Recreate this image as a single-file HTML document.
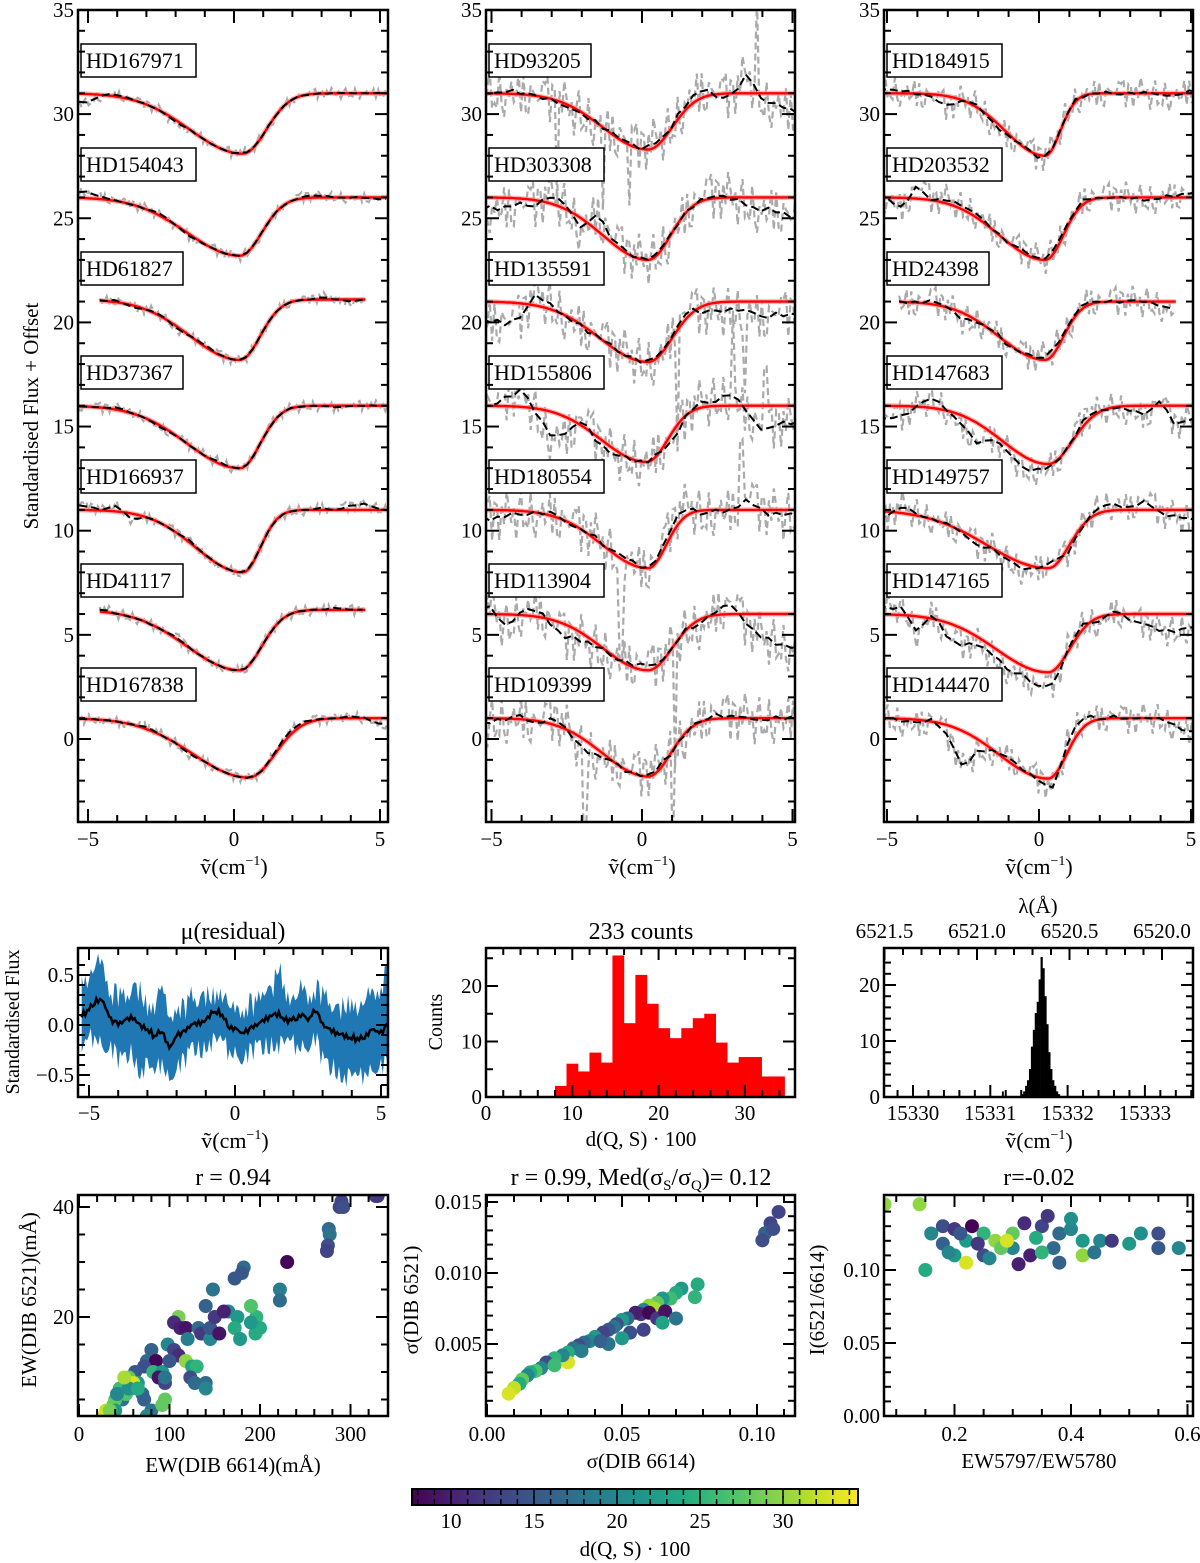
<!DOCTYPE html>
<html><head><meta charset="utf-8"><title>DIB 6521 figure</title>
<style>
html,body{margin:0;padding:0;background:#fff;}
svg{display:block;font-family:"Liberation Serif","DejaVu Serif",serif;}
</style></head>
<body>
<svg id="fig" width="1200" height="1563" viewBox="0 0 1200 1563" xmlns="http://www.w3.org/2000/svg">
<defs>
<linearGradient id="viridis" x1="0" x2="1" y1="0" y2="0">
<stop offset="0" stop-color="#440154"/><stop offset="0.1" stop-color="#482475"/><stop offset="0.2" stop-color="#414487"/><stop offset="0.3" stop-color="#355f8d"/><stop offset="0.4" stop-color="#2a788e"/><stop offset="0.5" stop-color="#21918c"/><stop offset="0.6" stop-color="#22a884"/><stop offset="0.7" stop-color="#44bf70"/><stop offset="0.8" stop-color="#7ad151"/><stop offset="0.9" stop-color="#bddf26"/><stop offset="1" stop-color="#fde725"/>
</linearGradient>
<clipPath id="c0"><rect x="78" y="10" width="310" height="812"/></clipPath>
<clipPath id="c1"><rect x="486" y="10" width="309" height="812"/></clipPath>
<clipPath id="c2"><rect x="884" y="10" width="309" height="812"/></clipPath>
<clipPath id="cres"><rect x="78" y="948" width="310" height="149"/></clipPath>
<clipPath id="cs1"><rect x="78" y="1195" width="310" height="221"/></clipPath>
<clipPath id="cs2"><rect x="486" y="1195" width="309" height="221"/></clipPath>
<clipPath id="cs3"><rect x="884" y="1195" width="309" height="221"/></clipPath>
</defs>
</svg>
<script>
// ---------- DATA ----------
const starNames = [
 ['HD167971','HD154043','HD61827','HD37367','HD166937','HD41117','HD167838'],
 ['HD93205','HD303308','HD135591','HD155806','HD180554','HD113904','HD109399'],
 ['HD184915','HD203532','HD24398','HD147683','HD149757','HD147165','HD144470']];
const starBase = [[31,26,21.1,16,11,6.2,1],[31,26,21,16,11,6,1],[31,26,21,16,11,6,1]];
const starDepth = [[2.9,2.8,2.9,3,3,2.9,2.85],[2.7,3,2.9,2.7,2.8,2.7,2.8],[3,3,2.8,2.8,2.8,2.8,2.9]];
const starCenter = [[0.3,0.2,0.2,0.2,0.3,0.2,0.5],[0.2,0.2,0.2,0.15,0.2,0.2,0.2],[0.2,0.2,0.2,0.3,0.3,0.3,0.3]];
const starSigL = [[1.8,1.8,1.7,1.8,1.6,1.8,1.9],[1.5,1.5,1.6,1.5,1.5,1.5,1.5],[1.3,1.5,1.5,1.5,2,1.7,1.6]];
const starSigR = [[0.8,0.75,0.7,0.7,0.6,0.75,0.9],[0.8,0.75,0.8,0.7,0.6,0.8,0.75],[0.5,0.6,0.6,0.8,0.7,0.7,0.6]];
const starRange = [[[-5.3,5.3],[-5.3,5.3],[-4.6,4.5],[-5.3,5.3],[-5.3,5.3],[-4.6,4.5],[-5.3,5.3]],
 [[-5.3,5.3],[-5.3,5.3],[-5.3,5.3],[-5.3,5.3],[-5.3,5.3],[-5.3,5.3],[-5.3,5.3]],
 [[-5.3,5.3],[-5.3,5.3],[-4.6,4.5],[-5.3,5.3],[-5.3,5.3],[-5.3,5.3],[-5.3,5.3]]];
const starDev = [
 [[-0.4,0,0.1,0,0,0,-0.1,0,0,0,0,0.05,0,0,0,0,0,0,0,0,0],
  [0.3,0.1,0,0,0,0.1,0,-0.1,0,0,0,0,0,0,0,0.1,0.1,0,0,0,-0.1],
  [0,0,0.1,-0.1,0,0.1,-0.1,0,0.1,0,0,0,0,0,0,0,0.1,0,-0.1,0,0],
  [0,0,0.1,0,0,-0.1,0,0,0,0.1,0,0,0,0,0,0,0,-0.1,0,0,0],
  [0.2,0,0.3,-0.3,0,0,0,0.1,0,0,0,0,0,0,0,0,0.1,0,0.2,0.3,0],
  [0.1,0.1,0,0,0,0,0.1,0,0,0,0,0,0,0,0,0,0,0.1,0,0,0],
  [0,0,0,0,0.1,0,0,-0.1,0,0,0,0,0,0.1,0.2,0.1,0,0,0.1,0,-0.3]],
 [[0,0.1,0.1,-0.1,-0.05,-0.15,-0.1,0,0.1,0.1,0.05,0.3,0.05,0.3,0.35,-0.1,-0.1,0.9,-0.4,-0.5,-0.9],
  [-0.5,-0.45,-0.3,-0.2,0.4,0.1,-0.5,0.8,0.2,0,0,0.1,0,0,0.1,0.1,0,-0.3,-0.6,-0.6,-1.0],
  [-0.9,-1.0,-0.6,0.6,0.2,0,-0.1,0,0,0.1,0,0,0.1,0.3,-0.3,-0.5,-0.4,-0.4,-0.8,-0.6,-0.6],
  [0,0.4,0.8,-0.3,-1.2,-0.8,0.3,-0.2,-0.3,0,0,0.2,-0.5,0,0.2,0.3,0.6,-0.4,-1.2,-0.9,-0.8],
  [-0.4,-0.3,-0.1,0,0.1,-0.1,0,0.1,0,0.2,0,0.1,0.4,0.4,-0.2,0,0,0.6,-0.1,-0.2,-0.3],
  [0.3,-0.6,0.2,0.4,-0.2,-0.6,-0.3,-0.2,0,0.1,0.2,0.1,0,0,-0.3,0.2,0.5,-0.6,-1.1,-1.4,-1.6],
  [-0.2,0,0.1,-0.2,0.3,0,-0.5,-0.3,0,0,0.1,0.2,0,-0.1,0.1,0.2,0,0,-0.1,0,0]],
 [[0.2,0.1,0,-0.2,-0.5,0,0.1,-0.2,-0.1,0.1,-0.1,0.1,0.1,0,0,0,0,0,-0.1,-0.1,0.1],
  [0,-0.5,0.6,0,0.2,0.1,0.2,0,0,0.1,0,0.2,0.1,0.2,0,0,0,-0.1,0,0.1,0.2],
  [0,0,0,0.2,0,-0.3,0,0.1,-0.1,0,0.1,0.3,0,0.2,0,0,0,0,-0.2,-0.4,-0.4],
  [-0.6,-0.5,0,0.5,0,-0.5,-1.0,-0.2,-0.3,-0.6,-0.3,0,0,0.3,0,0,-0.2,-0.5,0.3,-1.0,-0.6],
  [-0.2,0.3,0.1,0,0,-0.1,-0.3,0,-0.2,-0.3,0,0.3,-0.3,0,0.3,0.3,0.1,0.5,-0.2,-0.3,-0.5],
  [0.3,0.4,-0.8,0.3,-0.7,-0.8,-0.3,-0.4,-0.6,-0.4,-0.8,-0.6,0.2,0.2,-0.3,0.2,-0.3,-0.5,-0.8,-0.8,-0.6],
  [0,-0.1,-0.2,0.1,-0.5,-1.8,-0.5,0,0.2,0.1,-0.1,-0.5,0.6,0.4,0,0.1,-0.1,0,0,-0.4,-0.7]]];
const noiseAmp = [0.25,1.2,0.75];
const jitter = [0.3,-0.8,0.5,-0.2,0.9,-0.6,0.1,-1,0.7,-0.3,0.4,-0.9,0.8,-0.1,0.2,-0.7,1,-0.4,0.6,-0.5,0,0.9,-0.8,0.3,-0.2,0.5,-1,0.7,-0.6,0.4,-0.3,0.8,-0.9,0.1,0.6,-0.4,0.2];
// big grey spikes in middle column: [star index, x, amplitude]
const spikeStar = [0,0,0,0,2,2,3,3,4,4,5,6,6];
const spikeX = [-2.8,-1.3,-0.4,3.8,1.2,3.4,3.0,4.1,-0.7,3.3,1.1,-1.9,1.0];
const spikeAmp = [-5,-4,-3,4.5,-6,-4,4,3,-5,3,-6,-4,-5];

const resMean = [0.1,0.15,0.25,0.22,0.05,0.0,0.05,0.08,0.0,-0.03,-0.12,-0.05,-0.25,-0.1,-0.08,0.0,0.02,0.05,0.15,0.12,0.0,-0.05,-0.08,-0.05,0.0,0.05,0.1,0.12,0.05,0.05,0.1,0.05,0.15,0.0,-0.05,-0.08,-0.1,-0.12,-0.15,-0.1,-0.05,-0.08,0.0];
const resUp = [0.35,0.3,0.4,0.35,0.25,0.3,0.2,0.28,0.35,0.22,0.3,0.5,0.25,0.3,0.22,0.28,0.2,0.25,0.15,0.2,0.25,0.18,0.22,0.25,0.2,0.3,0.22,0.5,0.25,0.2,0.28,0.22,0.2,0.3,0.25,0.22,0.3,0.35,0.3,0.4,0.35,0.45,0.55];
const resDn = [0.35,0.3,0.35,0.45,0.3,0.35,0.4,0.35,0.45,0.35,0.4,0.3,0.3,0.35,0.3,0.25,0.28,0.22,0.3,0.28,0.25,0.22,0.28,0.25,0.22,0.3,0.25,0.3,0.22,0.25,0.3,0.28,0.3,0.35,0.4,0.35,0.4,0.38,0.4,0.35,0.4,0.35,0.4];

const histStart = 8.0, histWidth = 1.33;
const histCounts = [2,6,4.6,8,6.2,25.5,13.3,22,16.8,12.4,10.6,12.4,14.2,15,9.8,6.2,7.2,7.2,3.7,3.7];

const h3Start = 15331.40, h3Width = 0.025;
const h3Counts = [0.5,1,2,3,5,9,12,15,17,21,25,23,18,13,8,5,3,2,1,0.5];
const h3Stray = [15331.15, 1];

const s1x = [330,328,290,288,292,276,277,275,274,230,182,180,172,222,222,148,165,196,200,195,190,175,190,172,178,110,105,112,118,132,135,145,145,155,98,105,110,118,125,130,123,128,140,140,80,75,85,72,82,92,88,95,95,62,55,58,65,60,45,45,48,52,40,38,35,30,28,40,42,55,70,72,80,92,95,75,140,150,160,120,100,65,50,34];
const s1y = [42,42,41,40,40,36,35,33,32,30,29,28,27,25,23,25,21,20,18,17,19,20,22,18,16,20,19,18,18,18,17,16,18,17,15,14,13,12,11,11,9,8,8,7,14,12,12,11,10,10,9,8,9,10,9,7,8,8,7,6,5,6,5,4,2,3,2,3,6,7,6,5,3,4,5,2,22,20,21,16,12,7,9,3];
const s1d = [12,12,13,13,14,17,18,14,13,8,17,15,15,19,17,18,20,25,24,24,22,22,27,24,22,29,11,10,9,17,12,20,15,9,20,13,11,30,23,25,14,17,17,20,16,17,8,14,25,22,9,13,18,15,28,23,22,33,26,23,18,27,27,28,30,32,33,22,20,21,17,16,18,28,28,20,16,12,10,19,15,24,31,29];

const s2x = [0.108,0.105,0.103,0.102,0.106,0.078,0.077,0.072,0.07,0.068,0.065,0.063,0.06,0.062,0.058,0.057,0.055,0.06,0.052,0.05,0.048,0.047,0.045,0.043,0.04,0.038,0.036,0.034,0.032,0.03,0.03,0.028,0.025,0.022,0.02,0.018,0.016,0.015,0.013,0.012,0.01,0.008,0.058,0.063,0.066,0.07,0.065,0.053,0.05,0.045,0.035,0.025,0.042];
const s2y = [0.0143,0.0135,0.0128,0.0123,0.0131,0.0092,0.0083,0.0089,0.0086,0.0082,0.0082,0.0079,0.0077,0.0075,0.0074,0.0071,0.0072,0.0072,0.0068,0.0067,0.0064,0.0062,0.006,0.0058,0.0055,0.0052,0.0051,0.0049,0.0047,0.0044,0.0037,0.0042,0.004,0.0037,0.0033,0.0031,0.003,0.0028,0.0025,0.0022,0.0019,0.0015,0.006,0.0068,0.0073,0.0068,0.0065,0.0058,0.0054,0.005,0.0045,0.0035,0.0052];
const s2d = [13,13,16,14,14,24,25,22,24,26,22,28,30,31,20,12,10,8,17,22,14,18,15,13,22,20,17,14,18,24,33,20,25,14,20,27,24,20,28,24,32,33,13,12,9,18,23,14,22,18,19,26,16];

const s3x = [0.08,0.14,0.16,0.18,0.2,0.22,0.23,0.25,0.27,0.3,0.32,0.35,0.36,0.38,0.4,0.42,0.45,0.5,0.52,0.55,0.55,0.585,0.15,0.2,0.22,0.25,0.28,0.3,0.33,0.37,0.38,0.42,0.44,0.18,0.26,0.31,0.24,0.29,0.34,0.4,0.47,0.19,0.21,0.35];
const s3y = [0.145,0.145,0.125,0.13,0.128,0.12,0.13,0.125,0.12,0.115,0.132,0.13,0.137,0.125,0.128,0.12,0.12,0.118,0.125,0.125,0.115,0.115,0.1,0.11,0.105,0.11,0.115,0.125,0.11,0.115,0.105,0.11,0.112,0.118,0.108,0.104,0.118,0.12,0.122,0.135,0.12,0.112,0.125,0.112];
const s3d = [30,30,20,14,12,22,8,25,30,20,11,13,12,17,20,22,20,22,21,14,15,20,24,22,33,14,28,28,10,17,16,30,18,16,20,10,12,33,24,21,12,20,15,25];

const cbTicks = [10,15,20,25,30];

// ---------- HELPERS ----------
const NS='http://www.w3.org/2000/svg';
const svg=document.getElementById('fig');
const TS=21;
function el(tag, attrs, parent){const e=document.createElementNS(NS,tag);for(const k in attrs)e.setAttribute(k,attrs[k]);(parent||svg).appendChild(e);return e;}
function txt(x,y,s,size,anchor,parent){const t=el('text',{x:x,y:y,'font-size':size,'text-anchor':anchor||'middle',fill:'#000'},parent);t.textContent=s;return t;}
function line(x1,y1,x2,y2,w,parent){return el('line',{x1:x1,y1:y1,x2:x2,y2:y2,stroke:'#000','stroke-width':w||1.5},parent);}
function frame(x0,y0,x1,y1,name){const r=el('rect',{x:x0,y:y0,width:x1-x0,height:y1-y0,fill:'none',stroke:'#000','stroke-width':2.5});
 
 
 return r;}
function ticksX(vals,fx,y0,y1,len,top,bottom){vals.forEach(v=>{const x=fx(v);if(bottom!==false)line(x,y1,x,y1-len,2);if(top!==false)line(x,y0,x,y0+len,2);});}
function ticksY(vals,fy,x0,x1,len){vals.forEach(v=>{const y=fy(v);line(x0,y,x0+len,y,2);line(x1,y,x1-len,y,2);});}
function range(a,b,s){const r=[];for(let v=a;v<=b+1e-9;v+=s)r.push(Math.round(v*10000)/10000);return r;}
function fmtNeg(v,d){const s=Math.abs(v).toFixed(d);return v<0?'\u2212'+s:s;}
function nuLabel(x,y,name){const t=el('text',{x:x,y:y,'font-size':22,'text-anchor':'middle'});
 
 
 t.appendChild(document.createTextNode('\u1e7d(cm'));
 const s=el('tspan',{dy:-9,'font-size':14},t);s.textContent='\u22121';
 const c=el('tspan',{dy:9},t);c.textContent=')';return t;}
function vir(d){const t=Math.max(0,Math.min(1,(d-7.65)/(34.5-7.65)));
 const st=[[68,1,84],[72,36,117],[65,68,135],[53,95,141],[42,120,142],[33,145,140],[34,168,132],[68,191,112],[122,209,81],[189,223,38],[253,231,37]];
 const p=t*10,i=Math.min(9,Math.floor(p)),f=p-i;const a=st[i],b=st[i+1];
 return 'rgb('+a.map((v,k)=>Math.round(v+(b[k]-v)*f)).join(',')+')';}
function interpDev(dev,x){const p=(x+5)/0.5;if(p<=0)return dev[0];if(p>=20)return dev[20];const i=Math.floor(p),f=p-i;return dev[i]*(1-f)+dev[i+1]*f;}

// ---------- SPECTRA PANELS ----------
const cols=[{x0:78,x1:388,c:234,s:29.2},{x0:486,x1:795,c:642,s:30.1},{x0:884,x1:1193,c:1039,s:30.4}];
const fySpec=v=>739-v*20.83;
cols.forEach((P,ci)=>{
 const fx=v=>P.c+v*P.s;
 const g=el('g',{'clip-path':'url(#c'+ci+')'});
 
 
 starNames[ci].forEach((nm,si)=>{
  const b=starBase[ci][si],d=starDepth[ci][si],c=starCenter[ci][si],sL=starSigL[ci][si],sR=starSigR[ci][si];
  const [lo,hi]=starRange[ci][si];const dev=starDev[ci][si];
  const red=x=>{const s=x<c?sL:sR;return b-d*Math.exp(-(x-c)*(x-c)/(2*s*s));};
  const black=x=>red(x)+interpDev(dev,x);
  let pg=[];let k=0;
  for(let x=lo;x<=hi+1e-9;x+=0.08){
   let v=black(x)+noiseAmp[ci]*jitter[(k*7+si*5)%37];
   if(ci===1){spikeStar.forEach((st,j)=>{if(st===si&&Math.abs(x-spikeX[j])<0.05)v=black(x)+spikeAmp[j];});}
   pg.push(fx(x).toFixed(1)+','+fySpec(v).toFixed(1));k++;}
  const gr=el('polyline',{points:pg.join(' '),fill:'none',stroke:'#aaaaaa','stroke-width':2.2,'stroke-dasharray':'7,4'},g);
  
  
  let pr=[];for(let x=lo;x<=hi+1e-9;x+=0.05)pr.push(fx(x).toFixed(1)+','+fySpec(red(x)).toFixed(1));
  const pk=el('polyline',{points:pr.join(' '),fill:'none',stroke:'#ff9a9a','stroke-width':5,opacity:0.7},g);
  
  
  const rd=el('polyline',{points:pr.join(' '),fill:'none',stroke:'#ff0000','stroke-width':2.4},g);
  
  
  let pb=[];k=0;for(let x=lo;x<=hi+1e-9;x+=0.25){pb.push(fx(x).toFixed(1)+','+fySpec(black(x)+0.1*noiseAmp[ci]*jitter[(k*3+si)%37]).toFixed(1));k++;}
  const bl=el('polyline',{points:pb.join(' '),fill:'none',stroke:'#000','stroke-width':2,'stroke-dasharray':'8,4'},g);
  
  
  const cy=60+si*104;const w=nm.length*13+11;
  const bx=el('rect',{x:P.x0+3,y:cy-16,width:w,height:33,fill:'#fff',stroke:'#000','stroke-width':1.5});
  
  
  const lt=txt(P.x0+8,cy+8,nm,22,'start');
  
  
 });
 frame(P.x0,10,P.x1,822,'spectra-frame-'+(ci+1));
 ticksX([-5,0,5],fx,10,822,13);
 ticksX([-4,-3,-2,-1,1,2,3,4],fx,10,822,7);
 ticksY(range(0,35,5),fySpec,P.x0,P.x1,13);
 ticksY(range(-3,34,1).filter(v=>v%5!==0),fySpec,P.x0,P.x1,7);
 range(0,35,5).forEach(v=>{const t=txt(P.x0-4,fySpec(v)+7,String(v),TS,'end');});
 [-5,0,5].forEach(v=>{const t=txt(fx(v),846,fmtNeg(v,0),TS,'middle');});
 nuLabel(fx(0),874,'x-axis-title-spectra-'+(ci+1));
});
{const t=el('text',{x:0,y:0,'font-size':21,'text-anchor':'middle',transform:'translate(38,416) rotate(-90)'});t.textContent='Standardised Flux + Offset';
 
 }

// ---------- RESIDUAL PANEL ----------
{
 const fx=v=>235+v*29.2, fy=r=>1025-r*100;
 const g=el('g',{'clip-path':'url(#cres)'});
 
 
 const up=[],dn=[],mn=[];
 const n=resMean.length;
 for(let j=0;j<=(n-1)*4;j++){
  const p=j/4,i=Math.min(n-2,Math.floor(p)),f=p-i;
  const m=resMean[i]*(1-f)+resMean[i+1]*f;
  const u=resUp[i]*(1-f)+resUp[i+1]*f, dd=resDn[i]*(1-f)+resDn[i+1]*f;
  const x=fx(-5.25+p*0.25);
  up.push(x.toFixed(1)+','+fy(m+u+0.12*jitter[(j*5)%37]).toFixed(1));
  dn.push(x.toFixed(1)+','+fy(m-dd+0.12*jitter[(j*11+3)%37]).toFixed(1));
  mn.push(x.toFixed(1)+','+fy(m+0.03*jitter[(j*3+1)%37]).toFixed(1));
 }
 const band=el('polygon',{points:up.concat(dn.reverse()).join(' '),fill:'#1f77b4'},g);
 
 
 const ml=el('polyline',{points:mn.join(' '),fill:'none',stroke:'#000','stroke-width':2.5},g);
 
 
 frame(78,948,388,1097,'residual-frame');
 ticksX([-5,0,5],fx,948,1097,12);ticksX([-4,-3,-2,-1,1,2,3,4],fx,948,1097,7);
 ticksY([-0.5,0,0.5],fy,78,388,12);ticksY([-0.6,-0.4,-0.3,-0.2,-0.1,0.1,0.2,0.3,0.4,0.6],fy,78,388,7);
 [[0.5,'0.5'],[0,'0.0'],[-0.5,'\u22120.5']].forEach(([v,s])=>{const t=txt(74,fy(v)+7,s,TS,'end');});
 [-5,0,5].forEach(v=>{const t=txt(fx(v),1120,fmtNeg(v,0),TS);});
 nuLabel(235,1148,'x-axis-title-residual');
 const tt=txt(233,939,'\u03bc(residual)',24);
 const yl=el('text',{x:0,y:0,'font-size':20,'text-anchor':'middle',transform:'translate(19,1022) rotate(-90)'});yl.textContent='Standardised Flux';
 
 
}

// ---------- HISTOGRAM d(Q,S) ----------
{
 const fx=d=>486+d*8.63, fy=c=>1097-c*5.55;
 histCounts.forEach((c,i)=>{const x0=fx(histStart+i*histWidth),x1=fx(histStart+(i+1)*histWidth);
  const r=el('rect',{x:x0,y:fy(c),width:x1-x0+0.3,height:fy(0)-fy(c),fill:'#ff0000'});
  
  });
 frame(486,948,795,1097,'histogram-frame');
 ticksX([0,10,20,30],fx,948,1097,12);ticksX(range(2,34,2).filter(v=>v%10!==0),fx,948,1097,7);
 ticksY([0,10,20],fy,486,795,12);ticksY([5,15,25],fy,486,795,7);
 [0,10,20].forEach(v=>{const t=txt(482,fy(v)+7,String(v),TS,'end');});
 [0,10,20,30].forEach(v=>{const t=txt(fx(v),1120,String(v),TS);});
 const xl=txt(641,1146,'d(Q, S) \u00b7 100',21);
 const tt=txt(641,939,'233 counts',24);
 const yl=el('text',{x:0,y:0,'font-size':20,'text-anchor':'middle',transform:'translate(442,1022) rotate(-90)'});yl.textContent='Counts';
 
 
}

// ---------- CENTRE HISTOGRAM ----------
{
 const fx=v=>913+(v-15330)*77.3, fy=c=>1097-c*5.6, flam=l=>977+(6521.0-l)*185;
 h3Counts.forEach((c,i)=>{const x0=fx(h3Start+i*h3Width),x1=fx(h3Start+(i+1)*h3Width);
  const r=el('rect',{x:x0,y:fy(c),width:x1-x0+0.3,height:fy(0)-fy(c),fill:'#000'});
  
  });
 {const r=el('rect',{x:fx(h3Stray[0]),y:fy(h3Stray[1]),width:1.9,height:fy(0)-fy(h3Stray[1]),fill:'#000'});
  
  }
 frame(884,948,1193,1097,'center-histogram-frame');
 ticksX([15330,15331,15332,15333],fx,948,1097,12,false,true);ticksX(range(15329.8,15333.6,0.2).filter(v=>Math.abs(v-Math.round(v))>0.01),fx,948,1097,7,false,true);
 ticksX([6521.5,6521.0,6520.5,6520.0],flam,948,1097,12,true,false);ticksX([6521.4,6521.3,6521.2,6521.1,6520.9,6520.8,6520.7,6520.6,6520.4,6520.3,6520.2,6520.1],flam,948,1097,7,true,false);
 ticksY([0,10,20],fy,884,1193,12);ticksY([2,4,6,8,12,14,16,18,22,24],fy,884,1193,7);
 [0,10,20].forEach(v=>{const t=txt(880,fy(v)+7,String(v),TS,'end');});
 [15330,15331,15332,15333].forEach(v=>{const t=txt(fx(v),1120,String(v),TS);});
 [[6521.5,'6521.5'],[6521.0,'6521.0'],[6520.5,'6520.5'],[6520.0,'6520.0']].forEach(([v,s])=>{const t=txt(flam(v),938,s,TS);});
 const tl=txt(1038,913,'\u03bb(\u00c5)',21);
 nuLabel(1039,1148,'x-axis-title-center');
}

// ---------- SCATTER PANELS ----------
function scatter(xs,ys,ds,fx,fy,clip,prefix){const g=el('g',{'clip-path':'url(#'+clip+')'});
 
 
 xs.forEach((x,i)=>{const c=el('circle',{cx:fx(x),cy:fy(ys[i]),r:7,fill:vir(ds[i])},g);
  
  });}
{
 const fx=e=>79+e*0.905, fy=e=>1427-e*5.5;
 scatter(s1x,s1y,s1d,fx,fy,'cs1','ew-scatter');
 frame(78,1195,388,1416,'ew-scatter-frame');
 ticksX([0,100,200,300],fx,1195,1416,12);ticksX(range(20,320,20).filter(v=>v%100!==0),fx,1195,1416,7);
 ticksY([20,40],fy,78,388,12);ticksY([5,10,15,25,30,35],fy,78,388,7);
 [20,40].forEach(v=>{const t=txt(74,fy(v)+7,String(v),TS,'end');});
 [0,100,200,300].forEach(v=>{const t=txt(fx(v),1441,String(v),TS);});
 const xl=txt(233,1472,'EW(DIB 6614)(m\u00c5)',21);
 const tt=txt(233,1185,'r =  0.94',24);
 const yl=el('text',{x:0,y:0,'font-size':21,'text-anchor':'middle',transform:'translate(36,1300) rotate(-90)'});yl.textContent='EW(DIB 6521)(m\u00c5)';
 
 
}
{
 const fx=s=>487+s*2700, fy=s=>1415-s*14200;
 scatter(s2x,s2y,s2d,fx,fy,'cs2','sigma-scatter');
 frame(486,1195,795,1416,'sigma-scatter-frame');
 ticksX([0,0.05,0.1],fx,1195,1416,12);ticksX([0.01,0.02,0.03,0.04,0.06,0.07,0.08,0.09,0.11],fx,1195,1416,7);
 ticksY([0.005,0.01,0.015],fy,486,795,12);ticksY([0.001,0.002,0.003,0.004,0.006,0.007,0.008,0.009,0.011,0.012,0.013,0.014],fy,486,795,7);
 [[0.005,'0.005'],[0.01,'0.010'],[0.015,'0.015']].forEach(([v,s])=>{const t=txt(482,fy(v)+7,s,TS,'end');});
 [[0,'0.00'],[0.05,'0.05'],[0.1,'0.10']].forEach(([v,s])=>{const t=txt(fx(v),1441,s,TS);});
 const xl=txt(641,1468,'\u03c3(DIB 6614)',21);
 const tt=el('text',{x:641,y:1185,'font-size':24,'text-anchor':'middle'});
 
 
 tt.appendChild(document.createTextNode('r =  0.99, Med(\u03c3'));
 let a=el('tspan',{dy:5,'font-size':15},tt);a.textContent='S';
 let b=el('tspan',{dy:-5},tt);b.textContent='/\u03c3';
 let c=el('tspan',{dy:5,'font-size':15},tt);c.textContent='Q';
 let d=el('tspan',{dy:-5},tt);d.textContent=')= 0.12';
 const yl=el('text',{x:0,y:0,'font-size':21,'text-anchor':'middle',transform:'translate(418,1300) rotate(-90)'});yl.textContent='\u03c3(DIB 6521)';
 
 
}
{
 const fx=r=>838+r*582.5, fy=i=>1416-i*1460;
 scatter(s3x,s3y,s3d,fx,fy,'cs3','ratio-scatter');
 frame(884,1195,1193,1416,'ratio-scatter-frame');
 ticksX([0.2,0.4,0.6],fx,1195,1416,12);ticksX([0.1,0.15,0.25,0.3,0.35,0.45,0.5,0.55,0.65],fx,1195,1416,7);
 ticksY([0,0.05,0.1],fy,884,1193,12);ticksY([0.01,0.02,0.03,0.04,0.06,0.07,0.08,0.09,0.11,0.12,0.13,0.14],fy,884,1193,7);
 [[0,'0.00'],[0.05,'0.05'],[0.1,'0.10']].forEach(([v,s])=>{const t=txt(880,fy(v)+7,s,TS,'end');});
 [[0.2,'0.2'],[0.4,'0.4'],[0.6,'0.6']].forEach(([v,s])=>{const t=txt(fx(v),1441,s,TS);});
 const xl=txt(1039,1468,'EW5797/EW5780',21);
 const tt=txt(1039,1185,'r=-0.02',24);
 const yl=el('text',{x:0,y:0,'font-size':21,'text-anchor':'middle',transform:'translate(824,1300) rotate(-90)'});yl.textContent='I(6521/6614)';
 
 
}

// ---------- COLORBAR ----------
{
 const fx=d=>412+(d-7.65)*16.6;
 const r=el('rect',{x:412,y:1489,width:446,height:16,fill:'url(#viridis)',stroke:'#000','stroke-width':2});
 
 
 range(8,34,1).forEach(v=>{const big=cbTicks.includes(v);line(fx(v),1505,fx(v),1505-(big?9:6),1.5);line(fx(v),1489,fx(v),1489+(big?9:6),1.5);});
 cbTicks.forEach(v=>{const t=txt(fx(v),1528,String(v),TS);});
 const t=txt(635,1556,'d(Q, S) \u00b7 100',21);
}
</script>
</body></html>
